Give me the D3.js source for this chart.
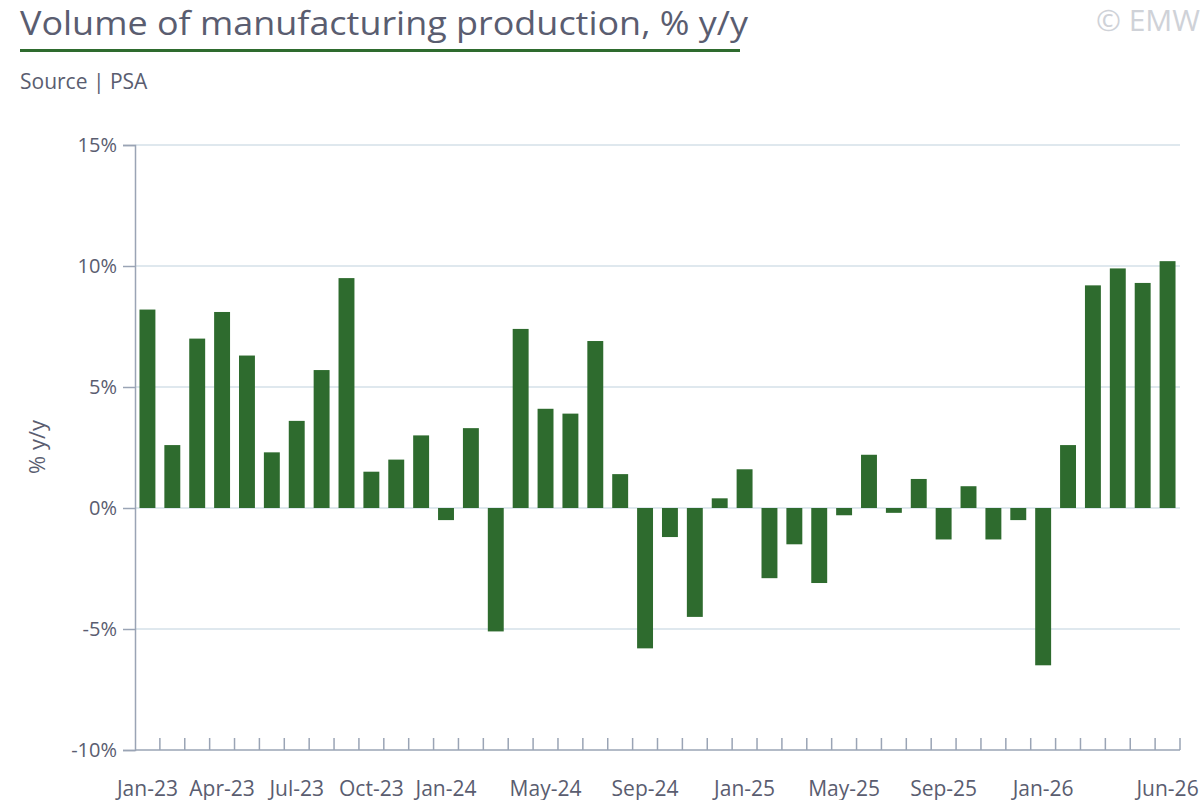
<!DOCTYPE html>
<html><head><meta charset="utf-8">
<script src="https://cdn.jsdelivr.net/npm/d3@7"></script>
<style>body{margin:0;background:#fff;font-family:"Open Sans",Lato,sans-serif}</style>
</head><body><svg id="c" width="1200" height="800"></svg>
<script>
const months = ["Jan-23","Feb-23","Mar-23","Apr-23","May-23","Jun-23","Jul-23","Aug-23","Sep-23","Oct-23","Nov-23","Dec-23",
"Jan-24","Feb-24","Mar-24","Apr-24","May-24","Jun-24","Jul-24","Aug-24","Sep-24","Oct-24","Nov-24","Dec-24",
"Jan-25","Feb-25","Mar-25","Apr-25","May-25","Jun-25","Jul-25","Aug-25","Sep-25","Oct-25","Nov-25","Dec-25",
"Jan-26","Feb-26","Mar-26","Apr-26","May-26","Jun-26"];
const values = [8.2,2.6,7.0,8.1,6.3,2.3,3.6,5.7,9.5,1.5,2.0,3.0,
-0.5,3.3,-5.1,7.4,4.1,3.9,6.9,1.4,-5.8,-1.2,-4.5,0.4,
1.6,-2.9,-1.5,-3.1,-0.3,2.2,-0.2,1.2,-1.3,0.9,-1.3,-0.5,
-6.5,2.6,9.2,9.9,9.3,10.2];
const labeled = ["Jan-23","Apr-23","Jul-23","Oct-23","Jan-24","May-24","Sep-24","Jan-25","May-25","Sep-25","Jan-26","Jun-26"];
const yTicks = [-10,-5,0,5,10,15];

const svg = d3.select("#c");
const txt = "#5a5d70", grid="#d5e0e8", green="#2e6b2e";
svg.append("text").attr("x",20).attr("y",35).attr("font-size",33).attr("fill",txt).attr("textLength",728).attr("lengthAdjust","spacingAndGlyphs").text("Volume of manufacturing production, % y/y");
svg.append("rect").attr("x",20).attr("y",49).attr("width",720).attr("height",3).attr("fill",green);
svg.append("text").attr("x",20).attr("y",89).attr("font-size",21).attr("fill",txt).text("Source | PSA");
svg.append("text").attr("x",1200).attr("y",31).attr("text-anchor","end").attr("font-size",30).attr("fill","#cfd2d8").text("© EMW");

const L=135,R=1180,T=145,B=750;
const x = d3.scaleBand().domain(months).range([L,R]).paddingInner(0.36).paddingOuter(0.18);
const y = d3.scaleLinear().domain([-10,15]).range([B,T]);

svg.append("g").selectAll("line").data(yTicks.filter(d=>d>-10)).join("line")
 .attr("x1",L).attr("x2",R).attr("y1",d=>y(d)).attr("y2",d=>y(d)).attr("stroke",grid).attr("stroke-width",1.5);

const ya = svg.append("g").attr("transform",`translate(${L},0)`).call(d3.axisLeft(y).tickValues(yTicks).tickFormat(d=>d+"%").tickSize(12).tickPadding(6));
ya.select(".domain").attr("stroke","#9aa4b5").attr("stroke-width",1.5);
ya.selectAll(".tick line").attr("stroke","#9aa4b5").attr("stroke-width",1.5).attr("x2",0).attr("x1",-12);
ya.selectAll("text").attr("font-size",20).attr("fill",txt).attr("font-family","Open Sans");

svg.append("text").attr("transform","translate(45,447) rotate(-90)").attr("text-anchor","middle").attr("font-size",22).attr("fill",txt).text("% y/y");

svg.append("g").selectAll("rect").data(values).join("rect")
 .attr("x",(d,i)=>x(months[i])).attr("width",x.bandwidth())
 .attr("y",d=>y(Math.max(0,d))).attr("height",d=>Math.abs(y(d)-y(0))).attr("fill",green);

const step = x.step();
const xa = svg.append("g").attr("transform",`translate(0,${B})`);
xa.append("line").attr("x1",L).attr("x2",R).attr("stroke","#9aa4b5").attr("stroke-width",1.5);
xa.selectAll("line.t").data(months).join("line").attr("class","t")
 .attr("x1",d=>x(d)+x.bandwidth()/2+step/2).attr("x2",d=>x(d)+x.bandwidth()/2+step/2).attr("y1",0).attr("y2",-12).attr("stroke","#9aa4b5").attr("stroke-width",1.5);
xa.selectAll("text").data(labeled).join("text")
 .attr("x",d=>x(d)+x.bandwidth()/2).attr("y",46).attr("text-anchor","middle").attr("font-size",21).attr("fill",txt).text(d=>d);
</script></body></html>
